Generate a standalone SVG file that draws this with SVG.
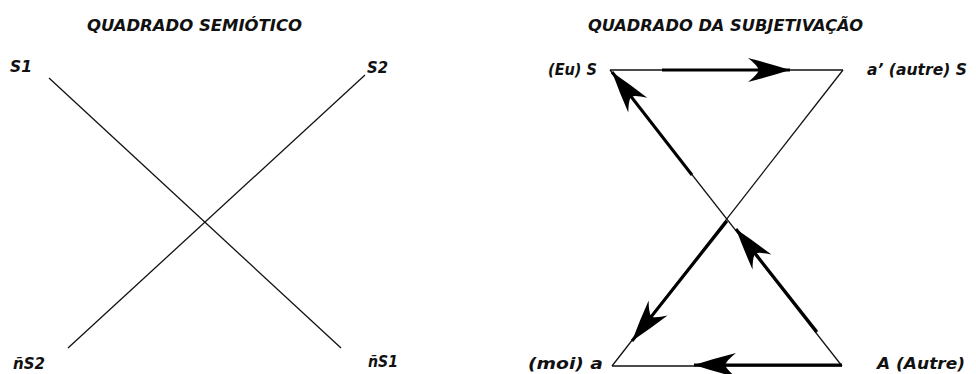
<svg xmlns="http://www.w3.org/2000/svg" width="976" height="374" viewBox="0 0 976 374">
<style>
text{font-family:"DejaVu Sans","Liberation Sans",sans-serif;font-weight:bold;font-style:italic;fill:#111;font-size:15px}
.t{font-size:16px}
.thin{stroke:#111;stroke-width:1.3;fill:none}
.thick{stroke:#000;stroke-width:3;fill:none}
</style>
<defs>
<marker id="ah" markerUnits="userSpaceOnUse" orient="auto" markerWidth="48" markerHeight="28" refX="44" refY="14" viewBox="0 0 48 28">
<path d="M44,14 Q22,7 2,2 Q11,9 13,14 Q11,19 2,26 Q22,21 44,14 Z" fill="#000"/>
</marker>
</defs>
<rect width="976" height="374" fill="#fff"/>
<g id="left-title"><text class="t" x="87" y="31" textLength="215" lengthAdjust="spacingAndGlyphs">QUADRADO SEMIÓTICO</text></g>
<g id="S1"><text x="10" y="72" textLength="22" lengthAdjust="spacingAndGlyphs">S1</text></g>
<g id="S2"><text x="367" y="73" textLength="21" lengthAdjust="spacingAndGlyphs">S2</text></g>
<g id="nS2"><text x="13" y="369" textLength="32" lengthAdjust="spacingAndGlyphs">ñS2</text></g>
<g id="nS1"><text x="368" y="367" textLength="30" lengthAdjust="spacingAndGlyphs">ñS1</text></g>
<g id="right-title"><text class="t" x="588" y="31" textLength="275" lengthAdjust="spacingAndGlyphs">QUADRADO DA SUBJETIVAÇÃO</text></g>
<g id="EuS"><text x="548" y="75" textLength="49" lengthAdjust="spacingAndGlyphs">(Eu) S</text></g>
<g id="autreS"><text x="867" y="75" textLength="100" lengthAdjust="spacingAndGlyphs">a’ (autre) S</text></g>
<g id="moia"><text x="528" y="369" textLength="75" lengthAdjust="spacingAndGlyphs">(moi) a</text></g>
<g id="Autre"><text x="877" y="369" textLength="88" lengthAdjust="spacingAndGlyphs">A (Autre)</text></g>
<g id="connectors">
<line class="thin" x1="49" y1="78" x2="341" y2="348"/>
<line class="thin" x1="365" y1="75" x2="68" y2="348"/>
<line class="thin" x1="610" y1="70" x2="843" y2="70"/>
<line class="thin" x1="843" y1="70" x2="612" y2="366"/>
<line class="thin" x1="610" y1="70" x2="842" y2="366"/>
<line class="thin" x1="612" y1="366" x2="842" y2="366"/>
<line class="thick" x1="662" y1="70" x2="790" y2="70" marker-end="url(#ah)"/>
<line class="thick" x1="692" y1="175" x2="612" y2="72" marker-end="url(#ah)"/>
<line class="thick" x1="727" y1="221" x2="632" y2="341" marker-end="url(#ah)"/>
<line class="thick" x1="817" y1="332" x2="736" y2="229" marker-end="url(#ah)"/>
<line class="thick" x1="842" y1="365" x2="694" y2="365" marker-end="url(#ah)"/>
</g>
</svg>
